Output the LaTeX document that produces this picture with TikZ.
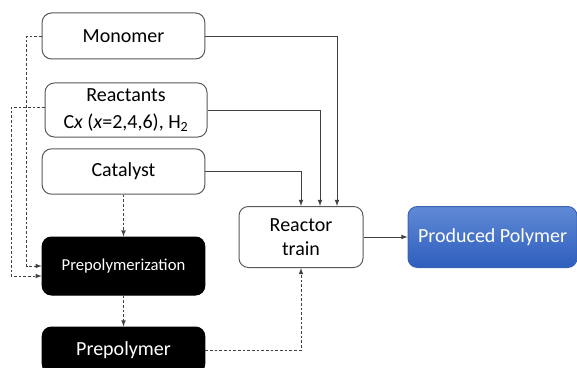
\documentclass[tikz,border=0pt]{standalone}
\usepackage{fontspec}
\setmainfont{Carlito}
\usetikzlibrary{arrows}
\definecolor{polytop}{RGB}{96,138,214}
\definecolor{polybot}{RGB}{46,94,190}
\definecolor{polyedge}{RGB}{58,98,178}

\begin{document}
\begin{tikzpicture}[x=0.75pt,y=-0.75pt,>=latex,
  box/.style={draw=black!65,line width=0.75pt,rounded corners=7pt,inner sep=1pt,
    minimum width=122pt,minimum height=34.5pt,align=center,font=\fontsize{15}{17.5}\selectfont},
  darkbox/.style={box,draw=black,fill=black,text=white},
  feed/.style={draw=black!75,line width=0.6pt},
  side/.style={feed,dash pattern=on 2pt off 1.5pt},
  elbow/.style={to path={-| (\tikztotarget)}}]
  \useasboundingbox (0,0) rectangle (577,367);

  \node[box] (mono) at (123.5,36) {Monomer};
  \node[box,minimum width=121.5pt,minimum height=40.5pt,font=\fontsize{15}{20}\selectfont]
    (reac) at (126,110) {Reactants\\C\textit{x} (\textit{x}=2,4,6), H\textsubscript{2}};
  \node[box,minimum height=34pt] (cat) at (123.5,171.5) {Catalyst};
  \node[darkbox,minimum height=43.5pt,font=\fontsize{12.5}{15}\selectfont] (prepz) at (123.5,266) {Prepolymerization};
  \node[darkbox] (prep) at (123.5,350) {Prepolymer};
  \node[box,minimum width=93pt,minimum height=45.75pt] (reactor) at (301,237) {Reactor\\train};
  \node[box,draw=polyedge,top color=polytop,bottom color=polybot,
    text=white,minimum width=126.75pt,minimum height=45.75pt] (prod) at (492.5,237) {Produced Polymer};

  \path[->]
  (mono.east) edge[feed,elbow] ([shift={(36,0)}]reactor.north)
  (reac.east) edge[feed,elbow] ([shift={(19,0)}]reactor.north)
  (cat.east) edge[feed,elbow] (reactor.north)
  (reactor.east) edge[feed] (prod.west)
  (cat.south) edge[side] (prepz.north)
  (prepz.south) edge[side] (prep.north)
  (prep.east) edge[side,elbow] (reactor.south)
  ;
  \draw[->,side] (mono.west) -- ++(-15,0) |- (prepz.west);
  \draw[->,side] ([shift={(0,-3)}]reac.west) -- (11,107) |- ([shift={(0,10)}]prepz.west);
\end{tikzpicture}
\end{document}
